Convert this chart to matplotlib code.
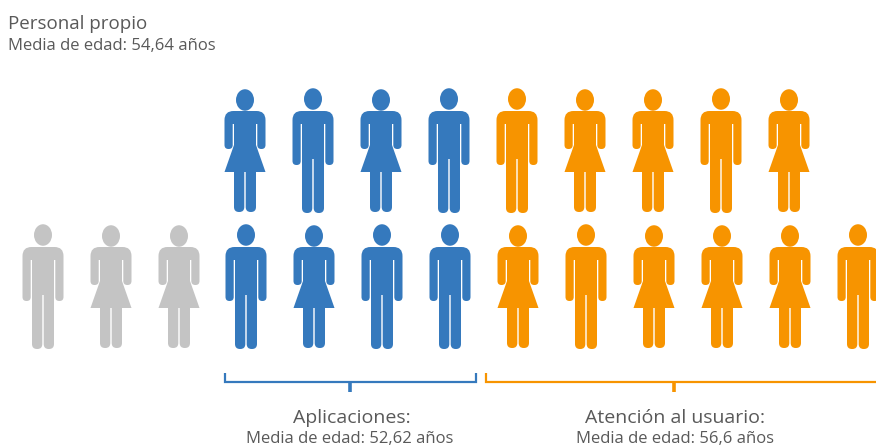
import math
import matplotlib
matplotlib.use("Agg")
import matplotlib.pyplot as plt
from matplotlib.path import Path
from matplotlib.patches import PathPatch, Ellipse

W, H = 876, 446
BLUE, ORANGE, GRAY = "#3579bd", "#f79400", "#c4c4c4"
TEXT = "#595959"
FONT = "Open Sans"

# People: x centre, figure type (M / W), group colour
top_x = [245, 313, 381, 449, 517, 585, 653, 721, 789]
top_sex = list("WMWMMWWMW")
top_col = [BLUE] * 4 + [ORANGE] * 5
bot_x = [43, 111, 179, 246, 314, 382, 450, 518, 586, 654, 722, 790, 858]
bot_sex = list("MWWMWMMWMWWWM")
bot_col = [GRAY] * 3 + [BLUE] * 4 + [ORANGE] * 6
top_y = 88
bot_y = 224

fig = plt.figure(figsize=(W / 100, H / 100), dpi=100)
ax = fig.add_axes([0, 0, 1, 1])
ax.set_xlim(0, W)
ax.set_ylim(H, 0)
ax.axis("off")


def rounded(points):
    """Closed path from (x, y, r) vertices with quadratic corners."""
    verts, codes = [], []
    n = len(points)
    for i, (x, y, r) in enumerate(points):
        if r == 0:
            verts.append((x, y))
            codes.append(Path.MOVETO if i == 0 else Path.LINETO)
            continue
        px, py, _ = points[i - 1]
        nx, ny, _ = points[(i + 1) % n]
        d1 = math.hypot(px - x, py - y)
        d2 = math.hypot(nx - x, ny - y)
        a = (x + (px - x) * r / d1, y + (py - y) * r / d1)
        b = (x + (nx - x) * r / d2, y + (ny - y) * r / d2)
        verts += [a, (x, y), b]
        codes += [Path.MOVETO if i == 0 else Path.LINETO, Path.CURVE3, Path.CURVE3]
    verts.append(verts[0])
    codes.append(Path.CLOSEPOLY)
    return verts, codes


def mirror(half):
    return half + [(-x, y, r) for x, y, r in reversed(half)]


MAN = mirror([(20.5, 23, 9), (20.5, 77, 4), (12.3, 77, 4), (12.3, 36, 0), (11, 36, 0),
              (11, 125, 5), (0.7, 125, 5), (0.7, 71, 0)])
WOMAN = mirror([(20.5, 22, 9), (20.5, 60, 4), (12.3, 60, 4), (12.3, 35, 0), (11, 35, 0),
                (11, 123, 5), (0.7, 123, 5), (0.7, 83, 0)])
SKIRT = mirror([(11, 56, 0), (20.5, 83, 0)])


def person(cx, top, sex, color):
    shapes = [MAN] if sex == "M" else [WOMAN, SKIRT]
    for shape in shapes:
        v, c = rounded(shape)
        v = [(x + cx, y + top + (0 if sex == "M" else 1)) for x, y in v]
        ax.add_patch(PathPatch(Path(v, c), fc=color, ec="none", lw=0))
    off = 0 if sex == "M" else 1
    ax.add_patch(Ellipse((cx, top + 11 + off), 18, 21.5, fc=color, ec="none"))


for x, s, c in zip(top_x, top_sex, top_col):
    person(x, top_y, s, c)
for x, s, c in zip(bot_x, bot_sex, bot_col):
    person(x, bot_y, s, c)


def bracket(x0, x1, xm, color):
    ax.plot([x0, x0, x1, x1], [373, 382, 382, 373], color=color, lw=1.6,
            solid_joinstyle="miter", solid_capstyle="butt", clip_on=False)
    ax.plot([xm, xm], [382, 392], color=color, lw=2.6, solid_capstyle="butt")


bracket(225, 476, 350, BLUE)
bracket(486, 880, 674, ORANGE)


def label(x, y, s, size, ha="center"):
    ax.text(x, y, s, fontsize=size, color=TEXT, family=FONT, ha=ha, va="baseline")


label(8, 29, "Personal propio", 13.5, "left")
label(8, 50, "Media de edad: 54,64 años", 12, "left")
label(352, 423, "Aplicaciones:", 14)
label(350, 443, "Media de edad: 52,62 años", 12)
label(675, 423, "Atención al usuario:", 14)
label(675, 443, "Media de edad: 56,6 años", 12)

fig.savefig("out.png", dpi=100)
